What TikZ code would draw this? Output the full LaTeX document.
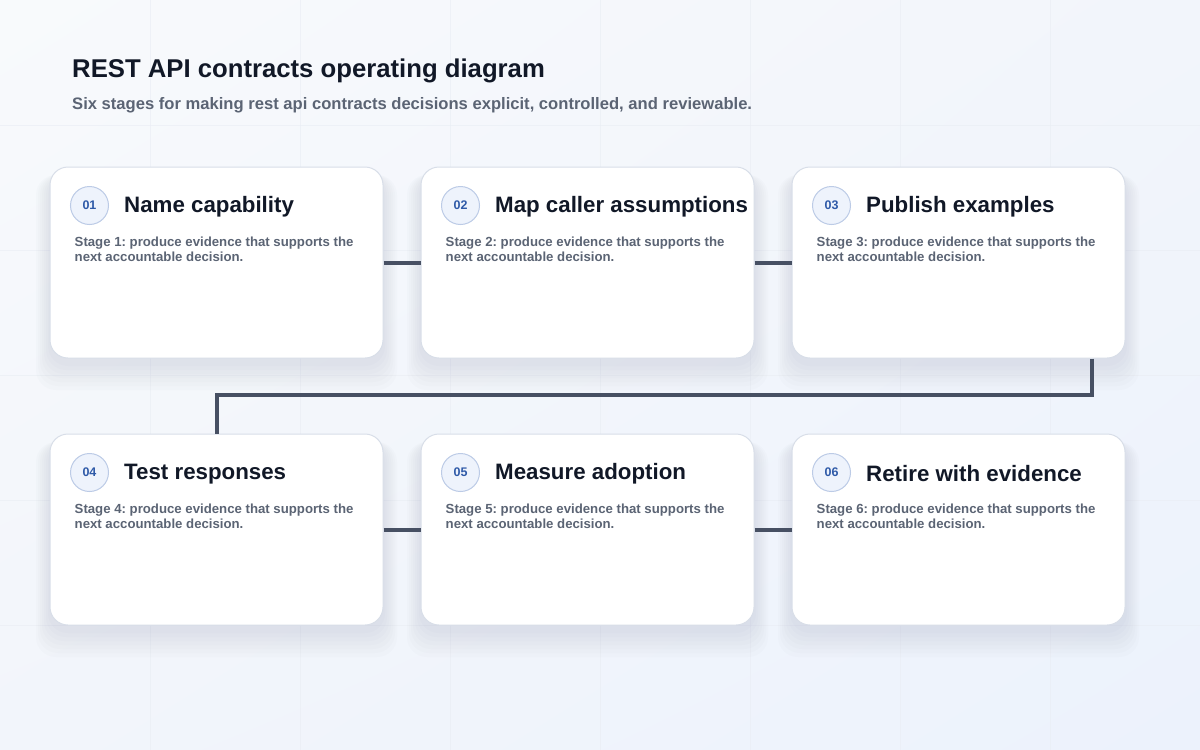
\documentclass[tikz,border=0pt]{standalone}
\usepackage{fontspec}
\setmainfont{Liberation Sans}
\usetikzlibrary{positioning,shadings}
\frenchspacing

\definecolor{bgtop}{HTML}{F8FAFC}
\definecolor{bgmid}{HTML}{F2F5FB}
\definecolor{bgbot}{HTML}{ECF2FC}
\definecolor{gridline}{HTML}{E9EDF4}
\definecolor{cardline}{HTML}{D8DEE8}
\definecolor{shadowink}{HTML}{5A6B8C}
\definecolor{titleink}{HTML}{111827}
\definecolor{bodyink}{HTML}{5B6474}
\definecolor{badgefill}{HTML}{EEF3FC}
\definecolor{badgeline}{HTML}{BCCBE6}
\definecolor{badgeink}{HTML}{2F5AA8}
\definecolor{wireink}{HTML}{475063}

\tikzset{
    card/.style={draw=cardline, line width=1pt, fill=white, rounded corners=18pt,
        minimum width=333pt, minimum height=191pt, inner sep=0},
    badge/.style={circle, draw=badgeline, fill=badgefill, line width=1pt, minimum size=38pt,
        inner sep=0, text=badgeink, font=\fontsize{12.5}{14}\selectfont\bfseries},
    stagetitle/.style={inner sep=0, text=titleink, font=\fontsize{22.3}{26}\selectfont\bfseries},
    stagetext/.style={anchor=north west, inner sep=0, align=left, text=bodyink,
        font=\fontsize{13.2}{15}\selectfont\bfseries},
    wire/.style={draw=wireink, line width=4pt}
}

\begin{document}
\begin{tikzpicture}[x=1pt, y=-1pt]
    \newcommand{\cardw}{333}
    \newcommand{\cardh}{191}

    % Background and grid
    \shade[upper left=bgtop, upper right=bgmid, lower left=bgmid, lower right=bgbot] (0,0) rectangle (1200,750);
    \useasboundingbox (0,0) rectangle (1200,750);
    \foreach \gx in {150,300,...,1050} {
        \draw[gridline, opacity=0.6, line width=0.8pt] (\gx,0) -- (\gx,750);
    }
    \foreach \gy in {125,250,...,625} {
        \draw[gridline, opacity=0.6, line width=0.8pt] (0,\gy) -- (1200,\gy);
    }

    % Heading
    \node[anchor=base west, inner sep=0, text=titleink, font=\fontsize{25.7}{30}\selectfont\bfseries]
        (heading) at (72,77) {REST API contracts operating diagram};
    \node[anchor=base west, inner sep=0, text=bodyink, font=\fontsize{16.6}{19}\selectfont\bfseries]
        (subheading) at (72,109) {Six stages for making rest api contracts decisions explicit, controlled, and reviewable.};

    % Draw card shadows
    \foreach \cx/\cy in {50/167, 421/167, 792/167, 50/434, 421/434, 792/434} {
        \foreach \k in {1,...,7} {
            \fill[shadowink, opacity=0.018, rounded corners=20pt]
                (\cx-\k*2,\cy+8) rectangle (\cx+\cardw+\k*2,\cy+\cardh+4+\k*4);
        }
    }

    % Draw cards
    \foreach \n/\cx/\cy/\ttl in {1/50/167/Name capability, 2/421/167/Map caller assumptions,
        3/792/167/Publish examples, 4/50/434/Test responses,
        5/421/434/Measure adoption, 6/792/434/Retire with evidence} {
        \node[card] (c\n) at (\cx+\cardw/2,\cy+\cardh/2) {};
        \node[badge] (b\n) at ([xshift=40pt,yshift=-39pt]c\n.north west) {0\n};
        \node[stagetitle, right=15pt of b\n, yshift=-1.5pt] (t\n) {\ttl};
        \node[stagetext] (d\n) at ([xshift=25pt,yshift=-70pt]c\n.north west)
            {Stage \n: produce evidence that supports the\\next accountable decision.};
    }

    % Draw connectors
    \draw[wire] (c1.east) -- (c2.west);
    \draw[wire] (c2.east) -- (c3.west);
    \draw[wire] (c4.east) -- (c5.west);
    \draw[wire] (c5.east) -- (c6.west);
    \coordinate (turn) at ([xshift=-34pt]c3.south east);
    \coordinate (bend) at (0,395);
    \draw[wire] (turn) |- (bend -| c4.north) -- (c4.north);
\end{tikzpicture}
\end{document}
